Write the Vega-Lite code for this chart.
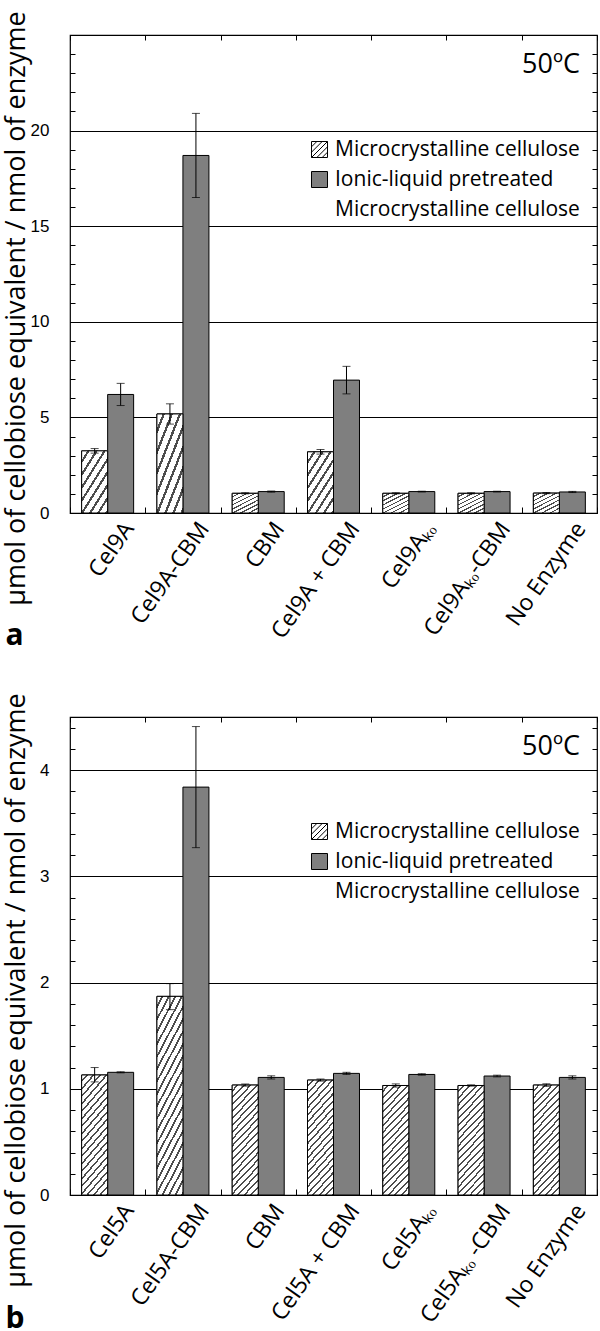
{
  "$schema": "https://vega.github.io/schema/vega-lite/v6.json",
  "padding": {"left": 1, "top": 10, "right": 3, "bottom": 2},
  "background": "white",
  "spacing": 41,
  "config": {
    "view": {"stroke": "black", "strokeWidth": 1.2},
    "axis": {"domain": false, "tickColor": "black", "labelColor": "black", "titleColor": "black"},
    "legend": {
      "orient": "top-right", "offset": 17, "padding": 0,
      "titleAnchor": "end", "titleFont": "Open Sans", "titleFontSize": 27, "titleFontWeight": "normal", "titleColor": "black", "titlePadding": 60, "titleLimit": 400,
      "labelFont": "Open Sans", "labelFontSize": 21, "labelColor": "black", "labelLimit": 400, "labelOffset": 5, "labelBaseline": "middle",
      "symbolType": "square", "symbolSize": 256, "symbolStrokeColor": "black", "symbolStrokeWidth": 1, "rowPadding": 8
    }
  },
  "datasets": {
    "a": [
      {"cat": "Cel9A", "mat": "Microcrystalline cellulose", "v": 3.25, "lo": 3.13, "hi": 3.37},
      {"cat": "Cel9A", "mat": "Ionic-liquid pretreated Microcrystalline cellulose", "v": 6.2, "lo": 5.62, "hi": 6.78},
      {"cat": "Cel9A-CBM", "mat": "Microcrystalline cellulose", "v": 5.18, "lo": 4.65, "hi": 5.71},
      {"cat": "Cel9A-CBM", "mat": "Ionic-liquid pretreated Microcrystalline cellulose", "v": 18.7, "lo": 16.5, "hi": 20.9},
      {"cat": "CBM", "mat": "Microcrystalline cellulose", "v": 1.03, "lo": 1.0, "hi": 1.06},
      {"cat": "CBM", "mat": "Ionic-liquid pretreated Microcrystalline cellulose", "v": 1.12, "lo": 1.09, "hi": 1.15},
      {"cat": "Cel9A + CBM", "mat": "Microcrystalline cellulose", "v": 3.2, "lo": 3.08, "hi": 3.32},
      {"cat": "Cel9A + CBM", "mat": "Ionic-liquid pretreated Microcrystalline cellulose", "v": 6.95, "lo": 6.23, "hi": 7.67},
      {"cat": "Cel9Aₖₒ", "mat": "Microcrystalline cellulose", "v": 1.03, "lo": 1.0, "hi": 1.06},
      {"cat": "Cel9Aₖₒ", "mat": "Ionic-liquid pretreated Microcrystalline cellulose", "v": 1.12, "lo": 1.1, "hi": 1.14},
      {"cat": "Cel9Aₖₒ-CBM", "mat": "Microcrystalline cellulose", "v": 1.03, "lo": 1.0, "hi": 1.06},
      {"cat": "Cel9Aₖₒ-CBM", "mat": "Ionic-liquid pretreated Microcrystalline cellulose", "v": 1.12, "lo": 1.1, "hi": 1.14},
      {"cat": "No Enzyme", "mat": "Microcrystalline cellulose", "v": 1.04, "lo": 1.01, "hi": 1.07},
      {"cat": "No Enzyme", "mat": "Ionic-liquid pretreated Microcrystalline cellulose", "v": 1.1, "lo": 1.07, "hi": 1.13}
    ],
    "b": [
      {"cat": "Cel5A", "mat": "Microcrystalline cellulose", "v": 1.13, "lo": 1.065, "hi": 1.2},
      {"cat": "Cel5A", "mat": "Ionic-liquid pretreated Microcrystalline cellulose", "v": 1.155, "lo": 1.15, "hi": 1.16},
      {"cat": "Cel5A-CBM", "mat": "Microcrystalline cellulose", "v": 1.87, "lo": 1.745, "hi": 1.99},
      {"cat": "Cel5A-CBM", "mat": "Ionic-liquid pretreated Microcrystalline cellulose", "v": 3.84, "lo": 3.27, "hi": 4.41},
      {"cat": "CBM", "mat": "Microcrystalline cellulose", "v": 1.035, "lo": 1.025, "hi": 1.045},
      {"cat": "CBM", "mat": "Ionic-liquid pretreated Microcrystalline cellulose", "v": 1.107, "lo": 1.092, "hi": 1.122},
      {"cat": "Cel5A + CBM", "mat": "Microcrystalline cellulose", "v": 1.082, "lo": 1.072, "hi": 1.092},
      {"cat": "Cel5A + CBM", "mat": "Ionic-liquid pretreated Microcrystalline cellulose", "v": 1.145, "lo": 1.135, "hi": 1.155},
      {"cat": "Cel5Aₖₒ", "mat": "Microcrystalline cellulose", "v": 1.031, "lo": 1.016, "hi": 1.046},
      {"cat": "Cel5Aₖₒ", "mat": "Ionic-liquid pretreated Microcrystalline cellulose", "v": 1.135, "lo": 1.128, "hi": 1.142},
      {"cat": "Cel5Aₖₒ -CBM", "mat": "Microcrystalline cellulose", "v": 1.031, "lo": 1.025, "hi": 1.037},
      {"cat": "Cel5Aₖₒ -CBM", "mat": "Ionic-liquid pretreated Microcrystalline cellulose", "v": 1.12, "lo": 1.112, "hi": 1.128},
      {"cat": "No Enzyme", "mat": "Microcrystalline cellulose", "v": 1.035, "lo": 1.023, "hi": 1.047},
      {"cat": "No Enzyme", "mat": "Ionic-liquid pretreated Microcrystalline cellulose", "v": 1.107, "lo": 1.092, "hi": 1.122}
    ]
  },
  "resolve": {"scale": {"x": "independent", "y": "independent", "fill": "independent"}, "legend": {"fill": "independent"}},
  "vconcat": [
    {
      "width": 527, "height": 478,
      "data": {"name": "a"},
      "resolve": {"axis": {"x": "independent", "y": "independent"}},
      "layer": [
        {
          "mark": {"type": "bar", "stroke": "black", "strokeWidth": 1},
          "encoding": {
            "x": {"field": "cat", "type": "nominal", "sort": ["Cel9A", "Cel9A-CBM", "CBM", "Cel9A + CBM", "Cel9Aₖₒ", "Cel9Aₖₒ-CBM", "No Enzyme"], "scale": {"paddingInner": 0, "paddingOuter": 0},
              "axis": {"orient": "bottom", "title": "a", "titleX": -65, "titleY": 131, "titleAlign": "left", "titleBaseline": "alphabetic", "titleAngle": 0, "titleFont": "Open Sans", "titleFontSize": 30, "titleFontWeight": "bold",
                "labelAngle": -55, "labelAlign": "right", "labelBaseline": "top", "labelFont": "Open Sans", "labelFontSize": 23, "labelPadding": 11, "labelOffset": 12, "labelLimit": 300,
                "tickBand": "extent", "tickSize": -6, "grid": false}},
            "xOffset": {"field": "mat", "type": "nominal", "sort": ["Microcrystalline cellulose", "Ionic-liquid pretreated Microcrystalline cellulose"], "scale": {"paddingInner": 0, "paddingOuter": 0.448}},
            "y": {"field": "v", "type": "quantitative", "scale": {"domain": [0, 25], "nice": false},
              "axis": {"orient": "left", "values": [0,1,2,3,4,5,6,7,8,9,10,11,12,13,14,15,16,17,18,19,20,21,22,23,24,25],
                "labelExpr": "datum.value % 5 === 0 && datum.value < 25 ? datum.label : ''", "labelOverlap": false, "labelFont": "Liberation Sans", "labelFontSize": 17, "labelPadding": 26,
                "encode": {"labels": {"update": {"dx": {"value": -5}}}},
                "tickSize": -5, "grid": true, "gridColor": "black", "gridWidth": 1.2,
                "gridOpacity": {"condition": {"test": "datum.value % 5 === 0 && datum.value > 0 && datum.value < 25", "value": 1}, "value": 0},
                "title": "μmol of cellobiose equivalent / nmol of enzyme", "titleX": -46, "titleY": 273, "titleAngle": -90, "titleAlign": "center", "titleBaseline": "alphabetic", "titleFont": "Open Sans", "titleFontSize": 27, "titleFontWeight": "normal"}},
            "fill": {"field": "mat", "type": "nominal",
              "scale": {"domain": ["Microcrystalline cellulose", "Ionic-liquid pretreated Microcrystalline cellulose", "~"], "range": ["#ffffff", "#7f7f7f", "transparent"]},
              "legend": {"title": "50ºC",
                "labelExpr": "datum.label === 'Ionic-liquid pretreated Microcrystalline cellulose' ? 'Ionic-liquid pretreated' : datum.label === '~' ? 'Microcrystalline cellulose' : datum.label",
                "encode": {
                "symbols": {"update": {
                  "shape": {"signal": "datum.value === 'Microcrystalline cellulose' ? 'M-1,-1H1V1H-1Z M-1,-0.333L-0.333,-1 M-1,0.333L0.333,-1 M-1,1L1,-1 M-0.333,1L1,-0.333 M0.333,1L1,0.333' : 'square'"},
                  "stroke": {"signal": "datum.value === '~' ? 'transparent' : 'black'"}, "strokeWidth": {"value": 1}}}}}}
          }
        },
        {
          "transform": [{"filter": "datum.mat === 'Microcrystalline cellulose'"}],
          "mark": {"type": "bar", "stroke": "black", "strokeWidth": 1,
            "fill": {"gradient": "linear", "x1": 0, "y1": 0, "x2": 0.77, "y2": 1.15, "stops": [
                    {"offset": 0, "color": "#fff"}, {"offset": 0.0875, "color": "#fff"}, {"offset": 0.0875, "color": "#4d4d4d"}, {"offset": 0.125, "color": "#4d4d4d"},
                    {"offset": 0.125, "color": "#fff"}, {"offset": 0.2125, "color": "#fff"}, {"offset": 0.2125, "color": "#4d4d4d"}, {"offset": 0.25, "color": "#4d4d4d"},
                    {"offset": 0.25, "color": "#fff"}, {"offset": 0.3375, "color": "#fff"}, {"offset": 0.3375, "color": "#4d4d4d"}, {"offset": 0.375, "color": "#4d4d4d"},
                    {"offset": 0.375, "color": "#fff"}, {"offset": 0.4625, "color": "#fff"}, {"offset": 0.4625, "color": "#4d4d4d"}, {"offset": 0.5, "color": "#4d4d4d"},
                    {"offset": 0.5, "color": "#fff"}, {"offset": 0.5875, "color": "#fff"}, {"offset": 0.5875, "color": "#4d4d4d"}, {"offset": 0.625, "color": "#4d4d4d"},
                    {"offset": 0.625, "color": "#fff"}, {"offset": 0.7125, "color": "#fff"}, {"offset": 0.7125, "color": "#4d4d4d"}, {"offset": 0.75, "color": "#4d4d4d"},
                    {"offset": 0.75, "color": "#fff"}, {"offset": 0.8375, "color": "#fff"}, {"offset": 0.8375, "color": "#4d4d4d"}, {"offset": 0.875, "color": "#4d4d4d"},
                    {"offset": 0.875, "color": "#fff"}, {"offset": 0.9625, "color": "#fff"}, {"offset": 0.9625, "color": "#4d4d4d"}, {"offset": 1, "color": "#4d4d4d"}]}},
          "encoding": {
            "x": {"field": "cat", "type": "nominal", "sort": ["Cel9A", "Cel9A-CBM", "CBM", "Cel9A + CBM", "Cel9Aₖₒ", "Cel9Aₖₒ-CBM", "No Enzyme"], "axis": null},
            "xOffset": {"field": "mat", "type": "nominal", "sort": ["Microcrystalline cellulose", "Ionic-liquid pretreated Microcrystalline cellulose"]},
            "y": {"field": "v", "type": "quantitative", "scale": {"domain": [0, 25], "nice": false}, "axis": null}
          }
        },
        {
          "mark": {"type": "rule", "color": "black", "strokeWidth": 1},
          "encoding": {
            "x": {"field": "cat", "type": "nominal", "sort": ["Cel9A", "Cel9A-CBM", "CBM", "Cel9A + CBM", "Cel9Aₖₒ", "Cel9Aₖₒ-CBM", "No Enzyme"],
              "axis": {"orient": "top", "labels": false, "tickBand": "extent", "tickSize": -5, "title": null, "grid": false}},
            "xOffset": {"field": "mat", "type": "nominal", "sort": ["Microcrystalline cellulose", "Ionic-liquid pretreated Microcrystalline cellulose"]},
            "y": {"field": "lo", "type": "quantitative", "scale": {"domain": [0, 25], "nice": false},
              "axis": {"orient": "right", "values": [0,1,2,3,4,5,6,7,8,9,10,11,12,13,14,15,16,17,18,19,20,21,22,23,24,25], "labels": false, "tickSize": -5, "grid": false, "title": null}},
            "y2": {"field": "hi"}
          }
        },
        {
          "mark": {"type": "tick", "color": "black", "size": 8, "thickness": 1},
          "encoding": {
            "x": {"field": "cat", "type": "nominal", "sort": ["Cel9A", "Cel9A-CBM", "CBM", "Cel9A + CBM", "Cel9Aₖₒ", "Cel9Aₖₒ-CBM", "No Enzyme"], "axis": null},
            "xOffset": {"field": "mat", "type": "nominal", "sort": ["Microcrystalline cellulose", "Ionic-liquid pretreated Microcrystalline cellulose"]},
            "y": {"field": "lo", "type": "quantitative", "scale": {"domain": [0, 25], "nice": false}, "axis": null}
          }
        },
        {
          "mark": {"type": "tick", "color": "black", "size": 8, "thickness": 1},
          "encoding": {
            "x": {"field": "cat", "type": "nominal", "sort": ["Cel9A", "Cel9A-CBM", "CBM", "Cel9A + CBM", "Cel9Aₖₒ", "Cel9Aₖₒ-CBM", "No Enzyme"], "axis": null},
            "xOffset": {"field": "mat", "type": "nominal", "sort": ["Microcrystalline cellulose", "Ionic-liquid pretreated Microcrystalline cellulose"]},
            "y": {"field": "hi", "type": "quantitative", "scale": {"domain": [0, 25], "nice": false}, "axis": null}
          }
        }
      ]
    },
    {
      "width": 527, "height": 478,
      "data": {"name": "b"},
      "resolve": {"axis": {"x": "independent", "y": "independent"}},
      "layer": [
        {
          "mark": {"type": "bar", "stroke": "black", "strokeWidth": 1},
          "encoding": {
            "x": {"field": "cat", "type": "nominal", "sort": ["Cel5A", "Cel5A-CBM", "CBM", "Cel5A + CBM", "Cel5Aₖₒ", "Cel5Aₖₒ -CBM", "No Enzyme"], "scale": {"paddingInner": 0, "paddingOuter": 0},
              "axis": {"orient": "bottom", "title": "b", "titleX": -65, "titleY": 132, "titleAlign": "left", "titleBaseline": "alphabetic", "titleAngle": 0, "titleFont": "Open Sans", "titleFontSize": 30, "titleFontWeight": "bold",
                "labelAngle": -55, "labelAlign": "right", "labelBaseline": "top", "labelFont": "Open Sans", "labelFontSize": 23, "labelPadding": 11, "labelOffset": 12, "labelLimit": 300,
                "tickBand": "extent", "tickSize": -6, "grid": false}},
            "xOffset": {"field": "mat", "type": "nominal", "sort": ["Microcrystalline cellulose", "Ionic-liquid pretreated Microcrystalline cellulose"], "scale": {"paddingInner": 0, "paddingOuter": 0.448}},
            "y": {"field": "v", "type": "quantitative", "scale": {"domain": [0, 4.5], "nice": false},
              "axis": {"orient": "left", "values": [0,0.2,0.4,0.6,0.8,1,1.2,1.4,1.6,1.8,2,2.2,2.4,2.6,2.8,3,3.2,3.4,3.6,3.8,4,4.2,4.4],
                "labelExpr": "abs(datum.value - round(datum.value)) < 0.001 ? format(datum.value, 'd') : ''", "labelOverlap": false, "labelFont": "Liberation Sans", "labelFontSize": 17, "labelPadding": 26,
                "encode": {"labels": {"update": {"dx": {"value": -5}}}},
                "tickSize": -5, "grid": true, "gridColor": "black", "gridWidth": 1.2,
                "gridOpacity": {"condition": {"test": "abs(datum.value - round(datum.value)) < 0.001 && datum.value > 0.5", "value": 1}, "value": 0},
                "title": "μmol of cellobiose equivalent / nmol of enzyme", "titleX": -46, "titleY": 273, "titleAngle": -90, "titleAlign": "center", "titleBaseline": "alphabetic", "titleFont": "Open Sans", "titleFontSize": 27, "titleFontWeight": "normal"}},
            "fill": {"field": "mat", "type": "nominal",
              "scale": {"domain": ["Microcrystalline cellulose", "Ionic-liquid pretreated Microcrystalline cellulose", "~"], "range": ["#ffffff", "#7f7f7f", "transparent"]},
              "legend": {"title": "50ºC",
                "labelExpr": "datum.label === 'Ionic-liquid pretreated Microcrystalline cellulose' ? 'Ionic-liquid pretreated' : datum.label === '~' ? 'Microcrystalline cellulose' : datum.label",
                "encode": {
                "symbols": {"update": {
                  "shape": {"signal": "datum.value === 'Microcrystalline cellulose' ? 'M-1,-1H1V1H-1Z M-1,-0.333L-0.333,-1 M-1,0.333L0.333,-1 M-1,1L1,-1 M-0.333,1L1,-0.333 M0.333,1L1,0.333' : 'square'"},
                  "stroke": {"signal": "datum.value === '~' ? 'transparent' : 'black'"}, "strokeWidth": {"value": 1}}}}}}
          }
        },
        {
          "transform": [{"filter": "datum.mat === 'Microcrystalline cellulose'"}],
          "mark": {"type": "bar", "stroke": "black", "strokeWidth": 1,
            "fill": {"gradient": "linear", "x1": 0, "y1": 0, "x2": 0.294, "y2": 1.176, "stops": [
                    {"offset": 0, "color": "#fff"}, {"offset": 0.035, "color": "#fff"}, {"offset": 0.035, "color": "#4d4d4d"}, {"offset": 0.05, "color": "#4d4d4d"},
                    {"offset": 0.05, "color": "#fff"}, {"offset": 0.085, "color": "#fff"}, {"offset": 0.085, "color": "#4d4d4d"}, {"offset": 0.1, "color": "#4d4d4d"},
                    {"offset": 0.1, "color": "#fff"}, {"offset": 0.135, "color": "#fff"}, {"offset": 0.135, "color": "#4d4d4d"}, {"offset": 0.15, "color": "#4d4d4d"},
                    {"offset": 0.15, "color": "#fff"}, {"offset": 0.185, "color": "#fff"}, {"offset": 0.185, "color": "#4d4d4d"}, {"offset": 0.2, "color": "#4d4d4d"},
                    {"offset": 0.2, "color": "#fff"}, {"offset": 0.235, "color": "#fff"}, {"offset": 0.235, "color": "#4d4d4d"}, {"offset": 0.25, "color": "#4d4d4d"},
                    {"offset": 0.25, "color": "#fff"}, {"offset": 0.285, "color": "#fff"}, {"offset": 0.285, "color": "#4d4d4d"}, {"offset": 0.3, "color": "#4d4d4d"},
                    {"offset": 0.3, "color": "#fff"}, {"offset": 0.335, "color": "#fff"}, {"offset": 0.335, "color": "#4d4d4d"}, {"offset": 0.35, "color": "#4d4d4d"},
                    {"offset": 0.35, "color": "#fff"}, {"offset": 0.385, "color": "#fff"}, {"offset": 0.385, "color": "#4d4d4d"}, {"offset": 0.4, "color": "#4d4d4d"},
                    {"offset": 0.4, "color": "#fff"}, {"offset": 0.435, "color": "#fff"}, {"offset": 0.435, "color": "#4d4d4d"}, {"offset": 0.45, "color": "#4d4d4d"},
                    {"offset": 0.45, "color": "#fff"}, {"offset": 0.485, "color": "#fff"}, {"offset": 0.485, "color": "#4d4d4d"}, {"offset": 0.5, "color": "#4d4d4d"},
                    {"offset": 0.5, "color": "#fff"}, {"offset": 0.535, "color": "#fff"}, {"offset": 0.535, "color": "#4d4d4d"}, {"offset": 0.55, "color": "#4d4d4d"},
                    {"offset": 0.55, "color": "#fff"}, {"offset": 0.585, "color": "#fff"}, {"offset": 0.585, "color": "#4d4d4d"}, {"offset": 0.6, "color": "#4d4d4d"},
                    {"offset": 0.6, "color": "#fff"}, {"offset": 0.635, "color": "#fff"}, {"offset": 0.635, "color": "#4d4d4d"}, {"offset": 0.65, "color": "#4d4d4d"},
                    {"offset": 0.65, "color": "#fff"}, {"offset": 0.685, "color": "#fff"}, {"offset": 0.685, "color": "#4d4d4d"}, {"offset": 0.7, "color": "#4d4d4d"},
                    {"offset": 0.7, "color": "#fff"}, {"offset": 0.735, "color": "#fff"}, {"offset": 0.735, "color": "#4d4d4d"}, {"offset": 0.75, "color": "#4d4d4d"},
                    {"offset": 0.75, "color": "#fff"}, {"offset": 0.785, "color": "#fff"}, {"offset": 0.785, "color": "#4d4d4d"}, {"offset": 0.8, "color": "#4d4d4d"},
                    {"offset": 0.8, "color": "#fff"}, {"offset": 0.835, "color": "#fff"}, {"offset": 0.835, "color": "#4d4d4d"}, {"offset": 0.85, "color": "#4d4d4d"},
                    {"offset": 0.85, "color": "#fff"}, {"offset": 0.885, "color": "#fff"}, {"offset": 0.885, "color": "#4d4d4d"}, {"offset": 0.9, "color": "#4d4d4d"},
                    {"offset": 0.9, "color": "#fff"}, {"offset": 0.935, "color": "#fff"}, {"offset": 0.935, "color": "#4d4d4d"}, {"offset": 0.95, "color": "#4d4d4d"},
                    {"offset": 0.95, "color": "#fff"}, {"offset": 0.985, "color": "#fff"}, {"offset": 0.985, "color": "#4d4d4d"}, {"offset": 1, "color": "#4d4d4d"}]}},
          "encoding": {
            "x": {"field": "cat", "type": "nominal", "sort": ["Cel5A", "Cel5A-CBM", "CBM", "Cel5A + CBM", "Cel5Aₖₒ", "Cel5Aₖₒ -CBM", "No Enzyme"], "axis": null},
            "xOffset": {"field": "mat", "type": "nominal", "sort": ["Microcrystalline cellulose", "Ionic-liquid pretreated Microcrystalline cellulose"]},
            "y": {"field": "v", "type": "quantitative", "scale": {"domain": [0, 4.5], "nice": false}, "axis": null}
          }
        },
        {
          "mark": {"type": "rule", "color": "black", "strokeWidth": 1},
          "encoding": {
            "x": {"field": "cat", "type": "nominal", "sort": ["Cel5A", "Cel5A-CBM", "CBM", "Cel5A + CBM", "Cel5Aₖₒ", "Cel5Aₖₒ -CBM", "No Enzyme"],
              "axis": {"orient": "top", "labels": false, "tickBand": "extent", "tickSize": -5, "title": null, "grid": false}},
            "xOffset": {"field": "mat", "type": "nominal", "sort": ["Microcrystalline cellulose", "Ionic-liquid pretreated Microcrystalline cellulose"]},
            "y": {"field": "lo", "type": "quantitative", "scale": {"domain": [0, 4.5], "nice": false},
              "axis": {"orient": "right", "values": [0,0.2,0.4,0.6,0.8,1,1.2,1.4,1.6,1.8,2,2.2,2.4,2.6,2.8,3,3.2,3.4,3.6,3.8,4,4.2,4.4], "labels": false, "tickSize": -5, "grid": false, "title": null}},
            "y2": {"field": "hi"}
          }
        },
        {
          "mark": {"type": "tick", "color": "black", "size": 8, "thickness": 1},
          "encoding": {
            "x": {"field": "cat", "type": "nominal", "sort": ["Cel5A", "Cel5A-CBM", "CBM", "Cel5A + CBM", "Cel5Aₖₒ", "Cel5Aₖₒ -CBM", "No Enzyme"], "axis": null},
            "xOffset": {"field": "mat", "type": "nominal", "sort": ["Microcrystalline cellulose", "Ionic-liquid pretreated Microcrystalline cellulose"]},
            "y": {"field": "lo", "type": "quantitative", "scale": {"domain": [0, 4.5], "nice": false}, "axis": null}
          }
        },
        {
          "mark": {"type": "tick", "color": "black", "size": 8, "thickness": 1},
          "encoding": {
            "x": {"field": "cat", "type": "nominal", "sort": ["Cel5A", "Cel5A-CBM", "CBM", "Cel5A + CBM", "Cel5Aₖₒ", "Cel5Aₖₒ -CBM", "No Enzyme"], "axis": null},
            "xOffset": {"field": "mat", "type": "nominal", "sort": ["Microcrystalline cellulose", "Ionic-liquid pretreated Microcrystalline cellulose"]},
            "y": {"field": "hi", "type": "quantitative", "scale": {"domain": [0, 4.5], "nice": false}, "axis": null}
          }
        }
      ]
    }
  ]
}
